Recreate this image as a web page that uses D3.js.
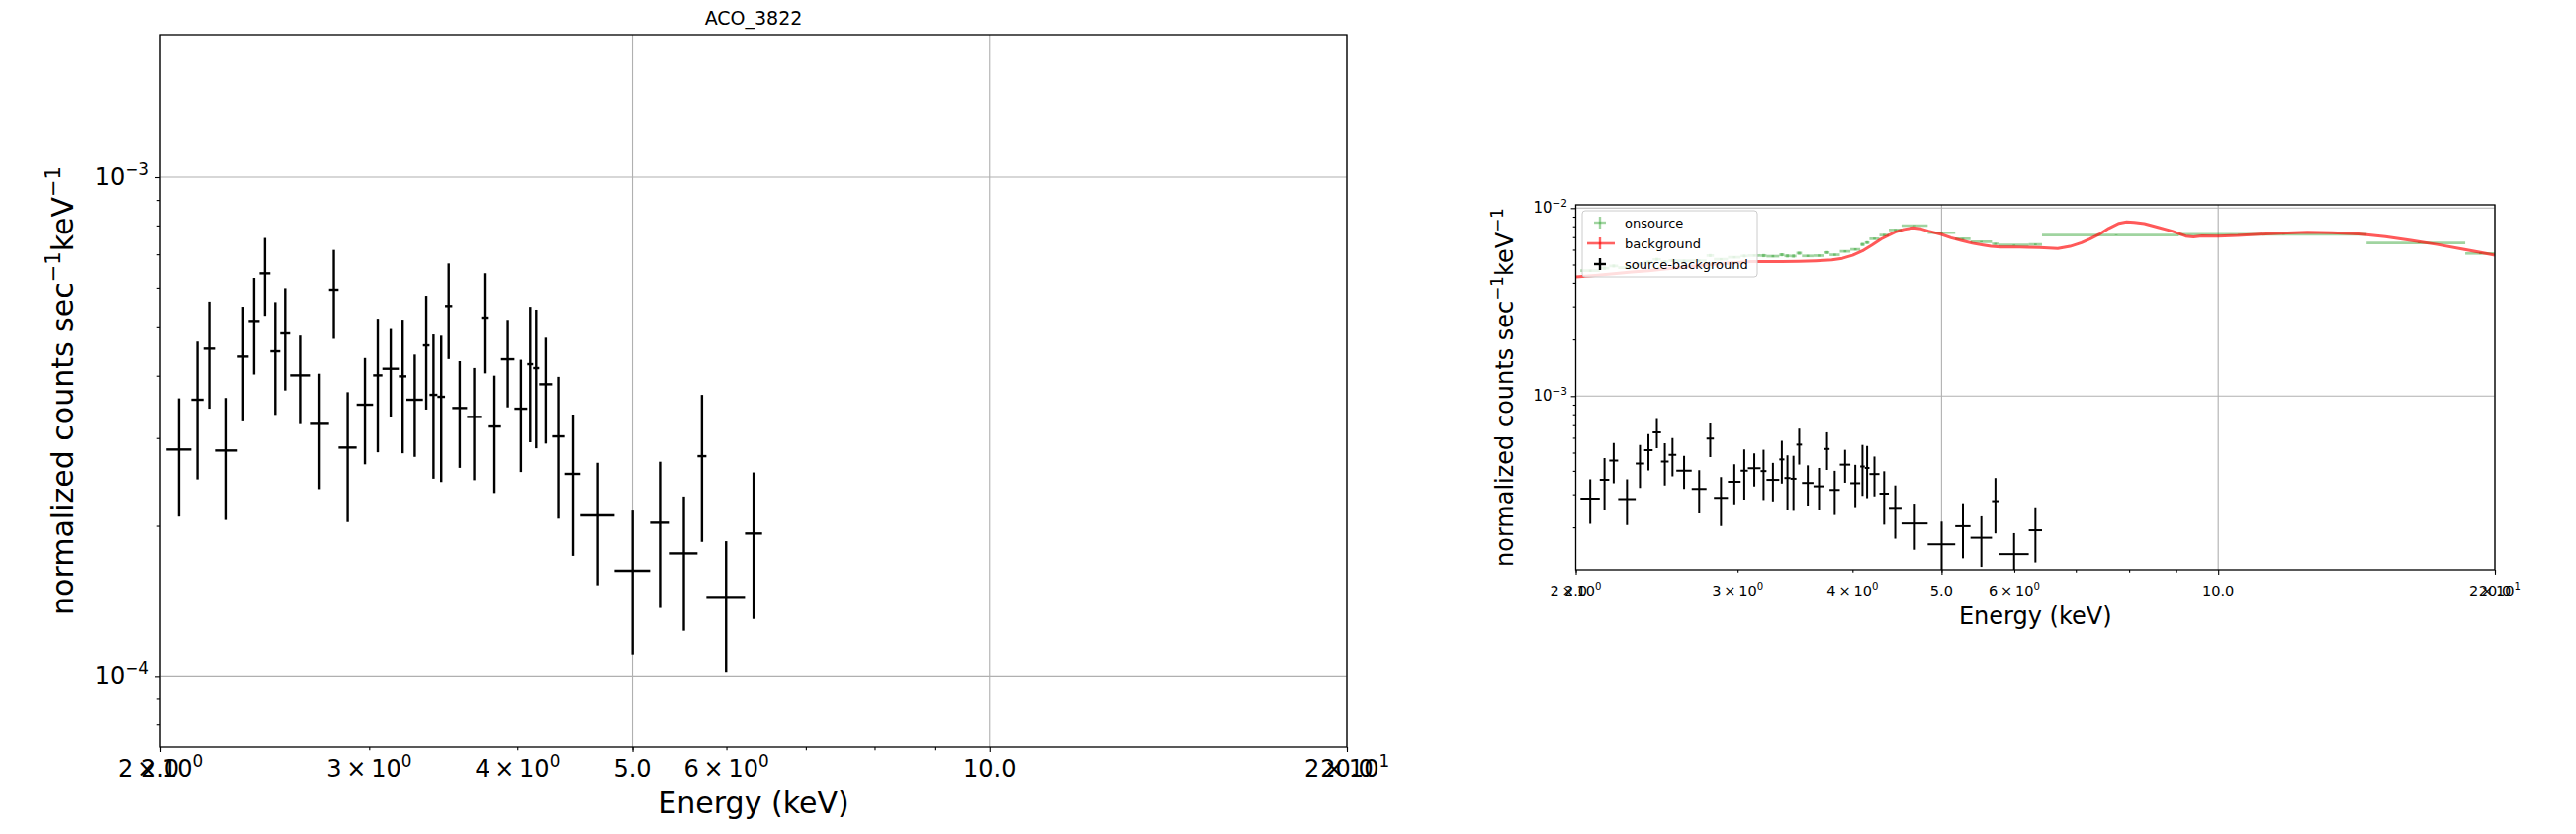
<!DOCTYPE html>
<html><head><meta charset="utf-8">
<script src="https://cdn.jsdelivr.net/npm/d3@7"></script>
<style>body{margin:0;background:#fff}svg{display:block}text{font-family:"DejaVu Sans",sans-serif;fill:#000}</style>
</head><body><svg id="c" width="2605" height="843"></svg>
<script>
// ---------------- DATA ----------------
// energy bin edges (keV) of the grouped spectrum
const binEdges = [2.024, 2.124, 2.175, 2.224, 2.324, 2.374, 2.425, 2.476, 2.524, 2.573, 2.674, 2.775, 2.827, 2.928, 3.023, 3.078, 3.178, 3.225, 3.330, 3.373, 3.425, 3.476, 3.525, 3.628, 3.729, 3.777, 3.875, 3.978, 4.078, 4.125, 4.173, 4.279, 4.381, 4.523, 4.829, 5.174, 5.376, 5.673, 5.772, 6.221, 6.431];
// source - background (counts s^-1 keV^-1)
const srcMinusBkg = [2.845e-4, 3.580e-4, 4.532e-4, 2.832e-4, 4.369e-4, 5.150e-4, 6.412e-4, 4.477e-4, 4.861e-4, 4.006e-4, 3.203e-4, 5.943e-4, 2.871e-4, 3.499e-4, 4.006e-4, 4.130e-4, 3.988e-4, 3.580e-4, 4.601e-4, 3.662e-4, 3.629e-4, 5.516e-4, 3.446e-4, 3.307e-4, 5.229e-4, 3.164e-4, 4.316e-4, 3.435e-4, 4.219e-4, 4.143e-4, 3.845e-4, 3.023e-4, 2.542e-4, 2.098e-4, 1.625e-4, 2.029e-4, 1.761e-4, 2.759e-4, 1.441e-4, 1.930e-4];
const srcMinusBkgErr = [0.758e-4, 1.102e-4, 1.097e-4, 0.777e-4, 1.129e-4, 1.128e-4, 1.139e-4, 1.139e-4, 1.125e-4, 0.807e-4, 0.834e-4, 1.202e-4, 0.836e-4, 0.842e-4, 1.197e-4, 0.831e-4, 1.192e-4, 0.830e-4, 1.180e-4, 1.176e-4, 1.181e-4, 1.196e-4, 0.832e-4, 0.838e-4, 1.186e-4, 0.837e-4, 0.860e-4, 0.871e-4, 1.277e-4, 1.282e-4, 0.921e-4, 0.956e-4, 0.801e-4, 0.578e-4, 0.521e-4, 0.660e-4, 0.529e-4, 0.902e-4, 0.422e-4, 0.629e-4];
// on-source spectrum
const onsourceEdges = [2.024, 2.124, 2.175, 2.224, 2.324, 2.374, 2.425, 2.476, 2.524, 2.573, 2.674, 2.775, 2.827, 2.928, 3.023, 3.078, 3.178, 3.225, 3.330, 3.373, 3.425, 3.476, 3.525, 3.628, 3.729, 3.777, 3.875, 3.978, 4.078, 4.125, 4.173, 4.279, 4.381, 4.523, 4.829, 5.174, 5.376, 5.673, 5.772, 6.221, 6.431, 9.06, 14.50, 18.57, 20.00];
const onsource = [4.64e-3, 4.78e-3, 4.92e-3, 4.82e-3, 5.04e-3, 5.16e-3, 5.33e-3, 5.18e-3, 5.26e-3, 5.24e-3, 5.25e-3, 5.59e-3, 5.34e-3, 5.47e-3, 5.56e-3, 5.59e-3, 5.58e-3, 5.54e-3, 5.64e-3, 5.56e-3, 5.55e-3, 5.75e-3, 5.56e-3, 5.58e-3, 5.80e-3, 5.64e-3, 5.88e-3, 6.02e-3, 6.40e-3, 6.55e-3, 6.87e-3, 7.18e-3, 7.65e-3, 8.07e-3, 7.39e-3, 6.86e-3, 6.62e-3, 6.45e-3, 6.36e-3, 6.40e-3, 7.18e-3, 7.24e-3, 6.52e-3, 5.73e-3];
const onsourceErr = [0.70e-4, 1.00e-4, 1.00e-4, 0.70e-4, 1.05e-4, 1.05e-4, 1.05e-4, 1.05e-4, 1.05e-4, 0.75e-4, 0.78e-4, 1.10e-4, 0.78e-4, 0.78e-4, 1.10e-4, 0.78e-4, 1.10e-4, 0.78e-4, 1.10e-4, 1.10e-4, 1.10e-4, 1.10e-4, 0.78e-4, 0.78e-4, 1.10e-4, 0.78e-4, 0.80e-4, 0.80e-4, 1.20e-4, 1.20e-4, 0.86e-4, 0.90e-4, 0.75e-4, 0.55e-4, 0.50e-4, 0.62e-4, 0.50e-4, 0.85e-4, 0.40e-4, 0.60e-4, 0.30e-4, 0.25e-4, 0.40e-4, 0.60e-4];
// background spectrum (fine channels)
const bkgEnergy = [2.00, 2.10, 2.20, 2.30, 2.40, 2.50, 2.60, 2.70, 2.80, 2.90, 3.00, 3.10, 3.20, 3.35, 3.50, 3.65, 3.80, 3.90, 4.00, 4.10, 4.20, 4.30, 4.45, 4.55, 4.66, 4.75, 4.84, 5.00, 5.12, 5.25, 5.40, 5.55, 5.66, 5.80, 5.97, 6.20, 6.39, 6.69, 6.90, 7.10, 7.25, 7.42, 7.60, 7.80, 7.95, 8.10, 8.31, 8.60, 8.91, 9.22, 9.40, 9.60, 10.0, 10.5, 10.97, 11.7, 12.5, 13.3, 14.24, 15.2, 16.2, 17.3, 18.47, 19.3, 20.0];
const bkgRate = [4.30e-3, 4.38e-3, 4.47e-3, 4.56e-3, 4.64e-3, 4.73e-3, 4.82e-3, 4.91e-3, 5.00e-3, 5.07e-3, 5.13e-3, 5.18e-3, 5.18e-3, 5.18e-3, 5.20e-3, 5.24e-3, 5.30e-3, 5.40e-3, 5.60e-3, 5.91e-3, 6.35e-3, 6.85e-3, 7.45e-3, 7.70e-3, 7.85e-3, 7.75e-3, 7.54e-3, 7.24e-3, 6.95e-3, 6.73e-3, 6.50e-3, 6.35e-3, 6.25e-3, 6.20e-3, 6.21e-3, 6.18e-3, 6.16e-3, 6.09e-3, 6.25e-3, 6.54e-3, 6.85e-3, 7.24e-3, 7.80e-3, 8.30e-3, 8.44e-3, 8.40e-3, 8.27e-3, 7.90e-3, 7.54e-3, 7.09e-3, 7.02e-3, 7.10e-3, 7.09e-3, 7.15e-3, 7.24e-3, 7.35e-3, 7.44e-3, 7.40e-3, 7.29e-3, 7.05e-3, 6.73e-3, 6.40e-3, 6.03e-3, 5.80e-3, 5.61e-3];
// ticks
const xDomain = [2, 20];
const xMajorTicks = [2, 5, 10, 20];
const xMajorLabels = ["2.0", "5.0", "10.0", "20.0"];
const xMinorTicks = [2, 3, 4, 5, 6, 7, 8, 9, 20];
const xMinorMant = ["2", "3", "4", "", "6", "", "", "", "2"];
const xMinorExp = ["0", "0", "0", "", "0", "", "", "", "1"];
const leftYMajor = [1e-4, 1e-3];
const leftYMajorExp = ["\u22124", "\u22123"];
const leftYMinor = [8e-5, 9e-5, 2e-4, 3e-4, 4e-4, 5e-4, 6e-4, 7e-4, 8e-4, 9e-4];
const rightYMajor = [1e-3, 1e-2];
const rightYMajorExp = ["\u22123", "\u22122"];
const rightYMinor = [2e-4, 3e-4, 4e-4, 5e-4, 6e-4, 7e-4, 8e-4, 9e-4, 2e-3, 3e-3, 4e-3, 5e-3, 6e-3, 7e-3, 8e-3, 9e-3];
const legendLabels = ["onsource", "background", "source-background"];

// ---------------- DRAW ----------------
const svg = d3.select("#c");
svg.append("rect").attr("width", 2605).attr("height", 843).attr("fill", "#fff");

function mathText(sel, segs, fs) {
  let prevSup = false;
  segs.forEach(([t, s]) => {
    if (!t) return;
    const ts = sel.append("tspan").text(t);
    if (s) { ts.attr("font-size", fs * 0.7).attr("dy", prevSup ? 0 : -0.42 * fs); }
    else { ts.attr("font-size", fs).attr("dy", prevSup ? 0.42 * fs : 0); }
    prevSup = s;
  });
}

const GREEN = "#2ca02c", RED = "#ff0000";

function panel(o, id) {
  const x = d3.scaleLog().domain(xDomain).range([o.left, o.right]);
  const y = d3.scaleLog().domain(o.yDomain).range([o.bottom, o.top]);
  const g = svg.append("g");
  g.append("clipPath").attr("id", "clip" + id).append("rect")
    .attr("x", o.left).attr("y", o.top).attr("width", o.right - o.left).attr("height", o.bottom - o.top);

  const grid = g.append("g").attr("stroke", "#b0b0b0").attr("stroke-width", 1.1);
  xMajorTicks.forEach(v => grid.append("line").attr("x1", x(v)).attr("x2", x(v)).attr("y1", o.top).attr("y2", o.bottom));
  o.yMajor.forEach(v => grid.append("line").attr("x1", o.left).attr("x2", o.right).attr("y1", y(v)).attr("y2", y(v)));

  const data = g.append("g").attr("clip-path", `url(#clip${id})`);
  if (o.showBkg) {
    const gg = data.append("g").attr("stroke", GREEN).attr("stroke-opacity", 0.45).attr("stroke-width", 2.7);
    onsource.forEach((v, i) => {
      const lo = onsourceEdges[i], hi = onsourceEdges[i + 1], c = (lo + hi) / 2;
      gg.append("line").attr("x1", x(lo)).attr("x2", x(hi)).attr("y1", y(v)).attr("y2", y(v));
      gg.append("line").attr("x1", x(c)).attr("x2", x(c)).attr("y1", y(v - onsourceErr[i])).attr("y2", y(v + onsourceErr[i]));
    });
    data.append("path")
      .datum(bkgEnergy.map((e, i) => [e, bkgRate[i]]))
      .attr("fill", "none").attr("stroke", RED).attr("stroke-opacity", 0.65).attr("stroke-width", 3)
      .attr("stroke-linejoin", "round")
      .attr("d", d3.line().x(d => x(d[0])).y(d => y(d[1])));
  }
  const bg = data.append("g").attr("stroke", "#000").attr("stroke-width", o.errW);
  srcMinusBkg.forEach((v, i) => {
    const lo = binEdges[i], hi = binEdges[i + 1], c = (lo + hi) / 2;
    bg.append("line").attr("x1", x(lo)).attr("x2", x(hi)).attr("y1", y(v)).attr("y2", y(v));
    bg.append("line").attr("x1", x(c)).attr("x2", x(c)).attr("y1", y(v - srcMinusBkgErr[i])).attr("y2", y(v + srcMinusBkgErr[i]));
  });

  const tickStyle = sel => { sel.select(".domain").remove(); sel.selectAll("line").attr("stroke", "#000").attr("stroke-width", 1.1); sel.selectAll("text").remove(); };
  g.append("g").attr("transform", `translate(0,${o.bottom})`)
    .call(d3.axisBottom(x).tickValues(xMinorTicks).tickSize(o.minorLen).tickFormat(() => "")).call(tickStyle);
  g.append("g").attr("transform", `translate(0,${o.bottom})`)
    .call(d3.axisBottom(x).tickValues(xMajorTicks).tickSize(o.majorLen).tickFormat(() => "")).call(tickStyle);
  g.append("g").attr("transform", `translate(${o.left},0)`)
    .call(d3.axisLeft(y).tickValues(o.yMinor).tickSize(o.minorLen).tickFormat(() => "")).call(tickStyle);
  g.append("g").attr("transform", `translate(${o.left},0)`)
    .call(d3.axisLeft(y).tickValues(o.yMajor).tickSize(o.majorLen).tickFormat(() => "")).call(tickStyle);

  g.append("rect").attr("x", o.left).attr("y", o.top).attr("width", o.right - o.left).attr("height", o.bottom - o.top)
    .attr("fill", "none").attr("stroke", "#000").attr("stroke-width", 1.3);

  xMajorTicks.forEach((v, i) => {
    const t = g.append("text").attr("x", x(v)).attr("y", o.xTickBaseline).attr("text-anchor", "middle");
    mathText(t, [[xMajorLabels[i], false]], o.tickFs);
  });
  xMinorTicks.forEach((v, i) => {
    if (!xMinorMant[i]) return;
    const t = g.append("text").attr("x", x(v)).attr("y", o.xTickBaseline).attr("text-anchor", "middle");
    mathText(t, [[xMinorMant[i] + "\u2009\u00d7\u200910", false], [xMinorExp[i], true]], o.tickFs);
  });
  o.yMajor.forEach((v, i) => {
    const t = g.append("text").attr("x", o.yTickX).attr("y", y(v) + o.yTickDy).attr("text-anchor", "end");
    mathText(t, [["10", false], [o.yMajorExp[i], true]], o.yTickFs);
  });
  const xl = g.append("text").attr("x", (o.left + o.right) / 2).attr("y", o.xLabelBaseline).attr("text-anchor", "middle");
  mathText(xl, [["Energy (keV)", false]], o.labelFs);
  const yl = g.append("text").attr("transform", `translate(${o.yLabelX},${(o.top + o.bottom) / 2}) rotate(-90)`).attr("text-anchor", "middle");
  mathText(yl, [["normalized counts sec", false], ["\u22121", true], ["keV", false], ["\u22121", true]], o.labelFs);

  if (o.title) {
    g.append("text").attr("x", (o.left + o.right) / 2).attr("y", o.titleBaseline).attr("text-anchor", "middle")
      .attr("font-size", o.titleFs).text(o.title);
  }

  if (o.legend) {
    const L = o.legendBox;
    const lg = g.append("g");
    lg.append("rect").attr("x", L.x).attr("y", L.y).attr("width", L.w).attr("height", L.h).attr("rx", 3)
      .attr("fill", "#fff").attr("fill-opacity", 0.8).attr("stroke", "#cccccc").attr("stroke-width", 1);
    const rows = [L.y + 12, L.y + 33, L.y + 54];
    const hx = L.x + 18;
    lg.append("line").attr("x1", hx - 6).attr("x2", hx + 6).attr("y1", rows[0]).attr("y2", rows[0]).attr("stroke", GREEN).attr("stroke-opacity", 0.45).attr("stroke-width", 2.4);
    lg.append("line").attr("x1", hx).attr("x2", hx).attr("y1", rows[0] - 6).attr("y2", rows[0] + 6).attr("stroke", GREEN).attr("stroke-opacity", 0.45).attr("stroke-width", 2.4);
    lg.append("line").attr("x1", L.x + 5).attr("x2", L.x + 33).attr("y1", rows[1]).attr("y2", rows[1]).attr("stroke", RED).attr("stroke-opacity", 0.62).attr("stroke-width", 2.6);
    lg.append("line").attr("x1", hx).attr("x2", hx).attr("y1", rows[1] - 6).attr("y2", rows[1] + 6).attr("stroke", RED).attr("stroke-opacity", 0.62).attr("stroke-width", 2.4);
    lg.append("line").attr("x1", hx - 6).attr("x2", hx + 6).attr("y1", rows[2]).attr("y2", rows[2]).attr("stroke", "#000").attr("stroke-width", 2.4);
    lg.append("line").attr("x1", hx).attr("x2", hx).attr("y1", rows[2] - 6).attr("y2", rows[2] + 6).attr("stroke", "#000").attr("stroke-width", 2.4);
    legendLabels.forEach((s, i) => {
      lg.append("text").attr("x", L.x + 43).attr("y", rows[i] + 4.5).attr("font-size", 13).text(s);
    });
  }
}

panel({
  left: 162, right: 1362, top: 35, bottom: 755, yDomain: [7.21e-5, 1.93e-3],
  yMajor: leftYMajor, yMajorExp: leftYMajorExp, yMinor: leftYMinor,
  tickFs: 24, yTickFs: 24, labelFs: 30, majorLen: 5, minorLen: 3.3, errW: 2.4,
  xTickBaseline: 785, xLabelBaseline: 822, yTickX: 151, yTickDy: 8, yLabelX: 74,
  title: "ACO_3822", titleFs: 19, titleBaseline: 25, showBkg: false, legend: false
}, 0);

panel({
  left: 1593.5, right: 2523, top: 207, bottom: 576, yDomain: [1.189e-4, 1.041e-2],
  yMajor: rightYMajor, yMajorExp: rightYMajorExp, yMinor: rightYMinor,
  tickFs: 14.5, yTickFs: 15, labelFs: 24, majorLen: 4.9, minorLen: 2.8, errW: 2.0,
  xTickBaseline: 602, xLabelBaseline: 631, yTickX: 1585, yTickDy: 5, yLabelX: 1530,
  showBkg: true, legend: true, legendBox: { x: 1600, y: 213, w: 177, h: 67 }
}, 1);
</script>
</body></html>
